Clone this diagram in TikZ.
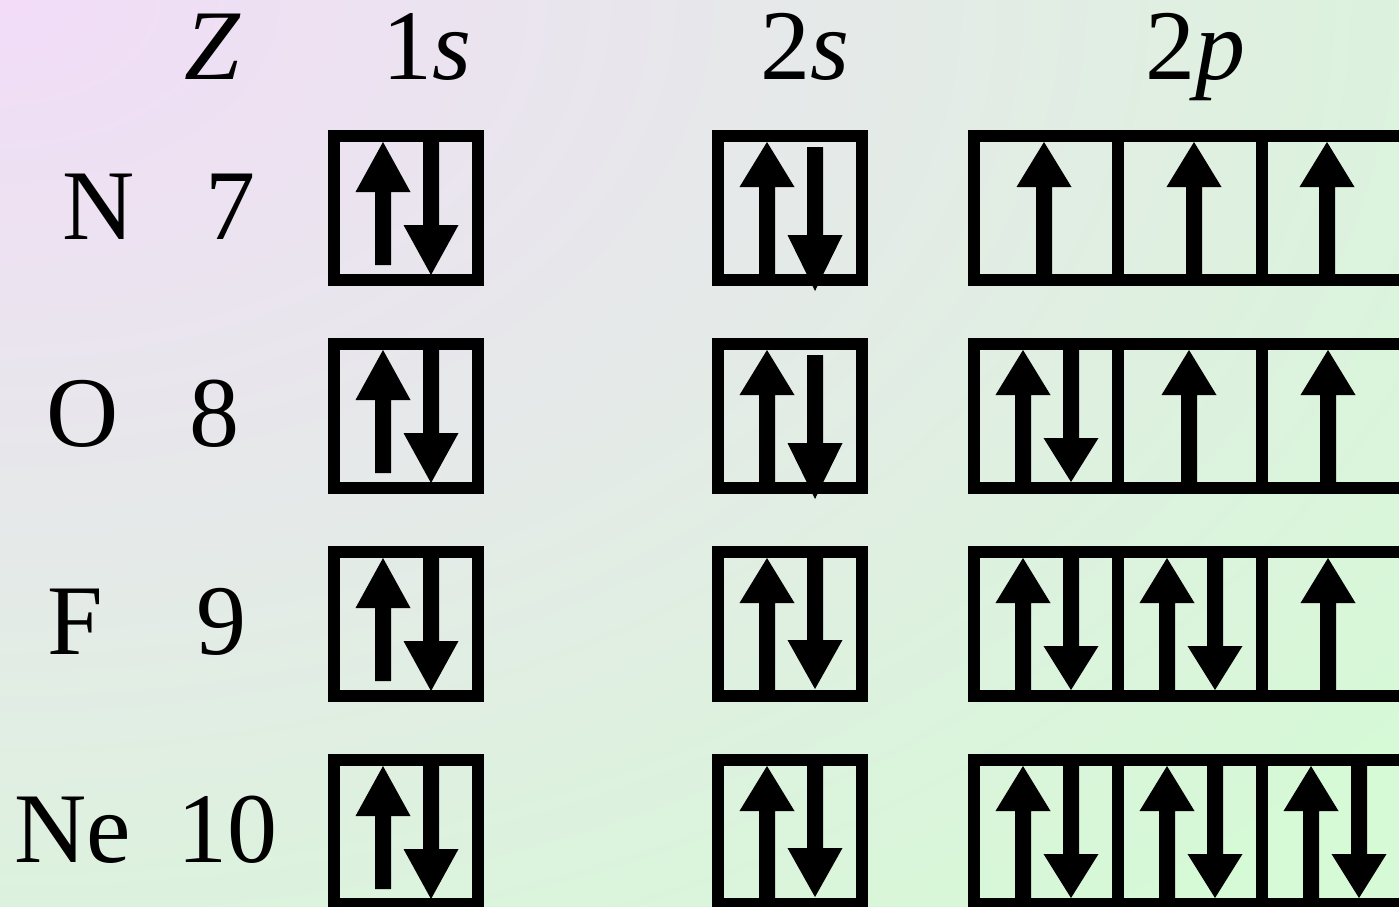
\documentclass[tikz,border=0pt]{standalone}
\usepackage{fontspec}
\setmainfont{Liberation Serif}
\definecolor{bgpurple}{HTML}{F2DCF8}
\definecolor{bggreen}{HTML}{D6F9D6}
% spin arrows: x, tip y, bottom y, head length
\newcommand\spinup[4]{%
  \fill (#1-8,#3) -- (#1-8,#2+#4) -- (#1-27.5,#2+#4) -- (#1,#2) -- (#1+27.5,#2+#4) -- (#1+8,#2+#4) -- (#1+8,#3) -- cycle;}
% x, top y, tip y, head length
\newcommand\spindown[4]{%
  \fill (#1-8,#2) -- (#1-8,#3-#4) -- (#1-27.5,#3-#4) -- (#1,#3) -- (#1+27.5,#3-#4) -- (#1+8,#3-#4) -- (#1+8,#2) -- cycle;}
\begin{document}
\begin{tikzpicture}[x=1pt,y=-1pt,
  cell/.style={draw=black,line width=12pt,minimum width=144pt,minimum height=144pt,inner sep=0pt,outer sep=0pt},
  lbl/.style={anchor=base,inner sep=0pt,font=\fontsize{100}{120}\selectfont}]
\useasboundingbox (0,0) rectangle (1399,906);
\clip (0,0) rectangle (1399,906);
\fill[bggreen] (0,0) rectangle (1399,906);
\shade[inner color=bgpurple,outer color=bggreen] (0,0) ellipse [x radius=1800pt, y radius=1180pt];

% headers
\node[lbl] (hZ) at (213,79) {\textit{Z}};
\node[lbl] (h1s) at (427,79) {1\textit{s}};
\node[lbl] (h2s) at (805,79) {2\textit{s}};
\node[lbl] (h2p) at (1195,79) {2\textit{p}};

% element labels
\node[lbl] (eN) at (99,239) {N};   \node[lbl] (zN) at (230,239) {7};
\node[lbl] (eO) at (83,446) {O};   \node[lbl] (zO) at (214,446) {8};
\node[lbl] (eF) at (75,654) {F};   \node[lbl] (zF) at (221,654) {9};
\node[lbl] (eNe) at (73,862) {Ne}; \node[lbl] (zNe) at (227,862) {10};

% orbital boxes
\foreach \r/\yc in {N/208,O/416,F/624,Ne/832}{
  \node[cell] (s1\r) at (406,\yc) {};
  \node[cell] (s2\r) at (790,\yc) {};
  \node[cell] (p1\r) at (1046,\yc) {};
  \node[cell] (p2\r) at (1190,\yc) {};
  \node[cell] (p3\r) at (1334,\yc) {};
  % 1s
  \spinup{383}{\yc-66}{\yc+57}{50}
  \spindown{431}{\yc-66}{\yc+67}{50}
  % 2s up
  \spinup{767}{\yc-66}{\yc+66}{45}
}
% 2s down
\foreach \yc in {208,416}{\spindown{815}{\yc-61}{\yc+83}{56}}
\foreach \yc in {624,832}{\spindown{815}{\yc-66}{\yc+65}{49}}

% 2p: N (single ups)
\spinup{1044}{142}{274}{45}
\spinup{1194}{142}{274}{45}
\spinup{1327}{142}{274}{45}
% O
\spinup{1023}{350}{482}{45} \spindown{1071}{350}{482}{44}
\spinup{1189}{350}{482}{45}
\spinup{1328}{350}{482}{45}
% F
\spinup{1023}{558}{690}{45} \spindown{1071}{558}{690}{44}
\spinup{1167}{558}{690}{45} \spindown{1215}{558}{690}{44}
\spinup{1328}{558}{690}{45}
% Ne
\spinup{1023}{766}{898}{45} \spindown{1071}{766}{898}{44}
\spinup{1167}{766}{898}{45} \spindown{1215}{766}{898}{44}
\spinup{1311}{766}{898}{45} \spindown{1359}{766}{898}{44}
\end{tikzpicture}
\end{document}
